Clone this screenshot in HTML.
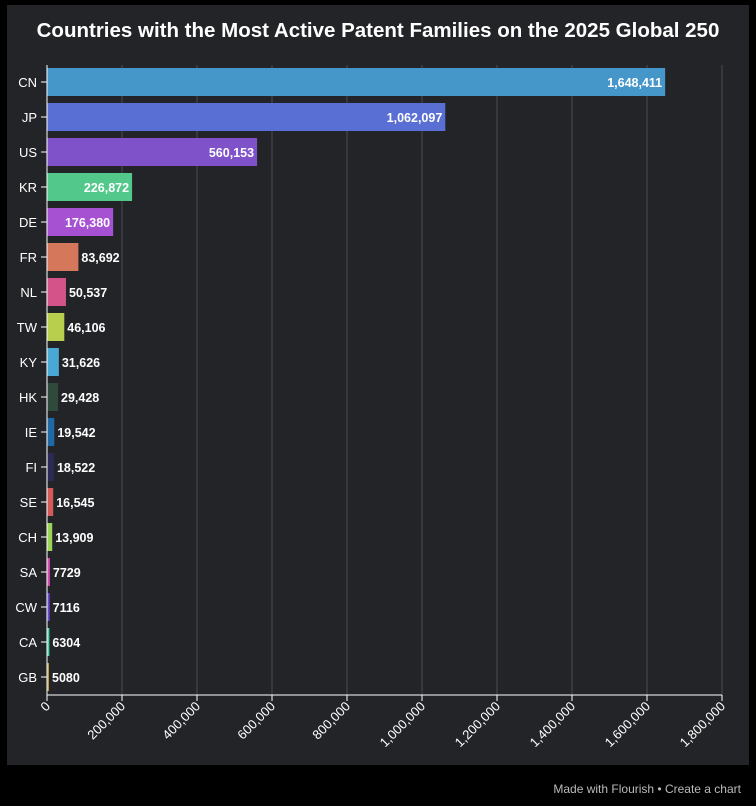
<!DOCTYPE html>
<html><head><meta charset="utf-8"><style>
html,body{margin:0;padding:0;background:#000;}
body{width:756px;height:806px;position:relative;overflow:hidden;font-family:"Liberation Sans",sans-serif;}
</style></head><body>
<svg width="756" height="806" xmlns="http://www.w3.org/2000/svg" style="position:absolute;left:0;top:0">
<rect x="0" y="0" width="756" height="806" fill="#000"/>
<rect x="7" y="5" width="742" height="760" fill="#232428"/>
<text x="378" y="37" text-anchor="middle" fill="#fff" font-size="20.5" font-weight="bold" font-family="Liberation Sans, sans-serif">Countries with the Most Active Patent Families on the 2025 Global 250</text>
<g id="grid" stroke="#4a4c52" stroke-width="1"></g>
<g id="bars"></g>
<text x="741" y="793" text-anchor="end" fill="#bbb" font-size="12">Made with Flourish • Create a chart</text>
</svg>
<script>
var data=[["CN",1648411,"#4596c9"],["JP",1062097,"#5a6fd3"],["US",560153,"#7f52c9"],["KR",226872,"#52c98a"],["DE",176380,"#a551d2"],["FR",83692,"#d4775a"],["NL",50537,"#d4548a"],["TW",46106,"#b8cf4e"],["KY",31626,"#4aa8d4"],["HK",29428,"#2f4a3a"],["IE",19542,"#1f6aa5"],["FI",18522,"#2a2a55"],["SE",16545,"#d45a5a"],["CH",13909,"#9cd45a"],["SA",7729,"#d44ab4"],["CW",7116,"#6a4ad4"],["CA",6304,"#4ad4a8"],["GB",5080,"#b89a4a"]];
var ns="http://www.w3.org/2000/svg",x0=47,sc=675/1800000;
function el(t,a,p,txt){var e=document.createElementNS(ns,t);for(var k in a)e.setAttribute(k,a[k]);if(txt!=null)e.textContent=txt;p.appendChild(e);return e;}
var g=document.getElementById("grid"),b=document.getElementById("bars"),svg=document.querySelector("svg");
for(var i=0;i<=9;i++){var x=x0+i*200000*sc;
 if(i>0)el("line",{x1:x,y1:65,x2:x,y2:695},g);
 el("line",{x1:x,y1:695,x2:x,y2:701,stroke:"#fff"},svg);
 var lab=i==0?"0":(i*200000).toLocaleString("en-US");
 el("text",{x:x+4,y:707,fill:"#fff","font-size":"13","text-anchor":"end",transform:"rotate(-45 "+(x+4)+" 707)"},svg,lab);}
el("line",{x1:x0,y1:695,x2:722,y2:695,stroke:"#fff"},svg);
el("line",{x1:x0,y1:65,x2:x0,y2:695,stroke:"#fff"},svg);
data.forEach(function(d,i){var cy=82+i*35,w=d[1]*sc;
 el("rect",{x:x0,y:cy-14,width:Math.max(w,2),height:28,fill:d[2]},b);
 el("line",{x1:41,y1:cy,x2:x0,y2:cy,stroke:"#fff"},svg);
 el("text",{x:37,y:cy+5,fill:"#fff","font-size":"13","text-anchor":"end"},svg,d[0]);
 var s=d[1]>=10000?d[1].toLocaleString("en-US"):String(d[1]);
 if(w>60) el("text",{x:x0+w-3,y:cy+5,fill:"#fff","font-size":"12.5","font-weight":"bold","text-anchor":"end"},svg,s);
 else el("text",{x:x0+Math.max(w,2)+3,y:cy+5,fill:"#fff","font-size":"12.5","font-weight":"bold"},svg,s);
});
</script>
</body></html>
